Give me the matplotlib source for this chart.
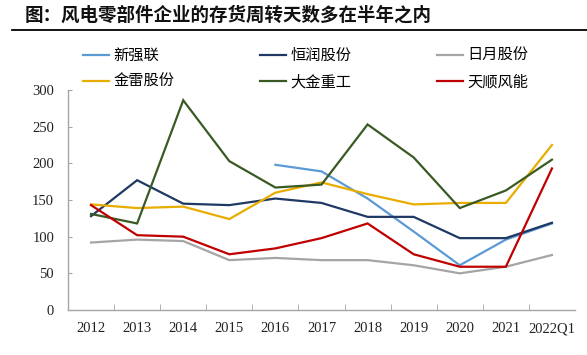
#!/usr/bin/env python3
# -*- coding: utf-8 -*-
"""
Inventory turnover days of wind-power component makers, 2012 - 2022Q1.
"""
import numpy as np
import matplotlib
matplotlib.use("Agg")
import matplotlib.pyplot as plt
from matplotlib.lines import Line2D

years = ["2012", "2013", "2014", "2015", "2016", "2017",
         "2018", "2019", "2020", "2021", "2022Q1"]

xinqianglian = [np.nan, np.nan, np.nan, np.nan, 198, 189, 152, 107, 61, 96, 118]
hengrun = [128, 177, 145, 143, 152, 146, 127, 127, 98, 98, 119]
riyue = [92, 96, 94, 68, 71, 68, 68, 61, 50, 59, 75]
jinlei = [144, 139, 141, 124, 160, 174, 158, 144, 146, 146, 225]
dajin = [131, 118, 286, 203, 167, 171, 253, 208, 139, 163, 205]
tianshun = [143, 102, 100, 76, 84, 98, 118, 76, 59, 59, 193]

names = ["新强联", "恒润股份", "日月股份", "金雷股份", "大金重工", "天顺风能"]
colours = ["#5B9BD5", "#1F3864", "#A5A5A5", "#E8AD00", "#3A5A23", "#C00000"]

CJK = ["Noto Sans CJK SC", "DejaVu Sans"]
NUM = "Liberation Serif"
AXC = "#A6A6A6"


def main():
    fig = plt.figure(figsize=(5.87, 3.55), dpi=100)
    ax = fig.add_axes([68 / 587, 1 - 310 / 355, 507 / 587, 220 / 355])

    xx = np.arange(len(years))
    series = [xinqianglian, hengrun, riyue, jinlei, dajin, tianshun]
    lines = []
    for vals, c in zip(series, colours):
        ln, = ax.plot(xx, vals, color=c, lw=1.6, solid_joinstyle="miter")
        lines.append(ln)

    ax.set_xlim(-0.5, len(years) - 0.5)
    ax.set_ylim(0, 300)
    ax.set_yticks(np.arange(0, 301, 50))
    ax.set_xticks(xx)
    ax.set_xticklabels(years)
    ax.set_xticks(np.arange(0.5, len(years) - 0.5, 1.0), minor=True)
    ax.tick_params(axis="x", which="major", length=0, pad=9)
    ax.tick_params(axis="x", which="minor", direction="in", length=4,
                   color=AXC)
    ax.tick_params(axis="y", direction="in", length=3, color=AXC, pad=10)
    for lab in ax.get_xticklabels() + ax.get_yticklabels():
        lab.set_fontfamily(NUM)
        lab.set_fontsize(10.5)
        lab.set_color("#222222")
    for s in ["top", "right"]:
        ax.spines[s].set_visible(False)
    for s in ["left", "bottom"]:
        ax.spines[s].set_color(AXC)
        ax.spines[s].set_linewidth(1.0)

    # legend: 3 columns, matplotlib fills column-wise
    order = [0, 3, 1, 4, 2, 5]
    fig.legend([lines[i] for i in order], [names[i] for i in order],
               ncol=3, loc="upper left", bbox_to_anchor=(83 / 587, 1 - 47 / 355),
               frameon=False, borderpad=0, borderaxespad=0,
               handlelength=1.7, handletextpad=0.3, columnspacing=5.6,
               labelspacing=0.6, prop={"family": CJK, "size": 11})

    fig.text(25 / 587, 1 - 15 / 355, "图：风电零部件企业的存货周转天数多在半年之内",
             family=CJK, fontsize=13.3, fontweight="bold", va="center",
             ha="left", color="#111111")
    fig.add_artist(Line2D([12 / 587, 1.0], [1 - 29.5 / 355, 1 - 29.5 / 355],
                          color="black", lw=1.3))

    fig.savefig("out.png", dpi=100)


if __name__ == "__main__":
    main()
